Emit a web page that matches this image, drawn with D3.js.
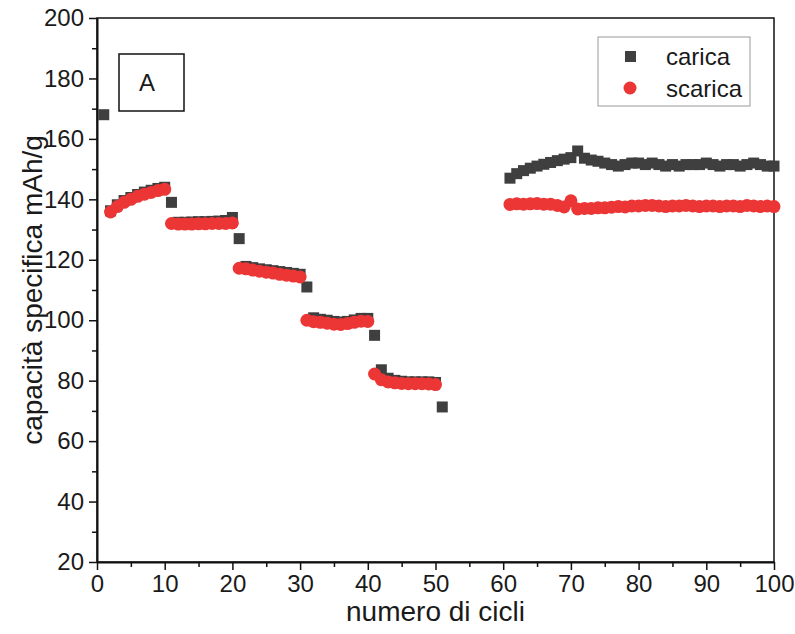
<!DOCTYPE html>
<html>
<head>
<meta charset="utf-8">
<script src="https://cdn.jsdelivr.net/npm/d3@7/dist/d3.min.js"></script>
<style>
  body { margin: 0; background: #fff; }
  text { font-family: "Liberation Sans", Arial, sans-serif; fill: #1a1a1a; }
</style>
</head>
<body>
<div id="chart"></div>
<script>
var width = 795;
var height = 634;
var margin = { top: 18, right: 21, bottom: 72, left: 97 };

// carica (charge) - cycle numbers and values
var caricaCycles = [1, 2, 3, 4, 5, 6, 7, 8, 9, 10,
  11, 12, 13, 14, 15, 16, 17, 18, 19, 20,
  21, 22, 23, 24, 25, 26, 27, 28, 29, 30,
  31, 32, 33, 34, 35, 36, 37, 38, 39, 40,
  41, 42, 43, 44, 45, 46, 47, 48, 49, 50,
  51,
  61, 62, 63, 64, 65, 66, 67, 68, 69, 70,
  71, 72, 73, 74, 75, 76, 77, 78, 79, 80,
  81, 82, 83, 84, 85, 86, 87, 88, 89, 90,
  91, 92, 93, 94, 95, 96, 97, 98, 99, 100];
var caricaValues = [168, 136.2, 138.2, 139.6, 140.6, 141.6, 142.4, 143, 143.6, 144,
  139, 132.4, 132.4, 132.5, 132.6, 132.6, 132.7, 132.8, 133, 134,
  127, 117.8, 117.4, 117, 116.7, 116.4, 116.1, 115.8, 115.5, 115.2,
  111, 100.8, 100.3, 100, 99.6, 99.4, 99.6, 100.1, 100.6, 100.6,
  95, 83.6, 80.8, 80.1, 79.8, 79.6, 79.6, 79.6, 79.6, 79.4,
  71.3,
  147, 148.5, 149.5, 150.3, 151, 151.6, 152.2, 152.8, 153.3, 153.8,
  156, 153.6, 153, 152.6, 152, 151.5, 151, 151.5, 152, 152,
  151.5, 152, 151.5, 151, 151.5, 151, 151.5, 151.5, 151.5, 152,
  151.5, 151, 151.5, 151.5, 151, 151.5, 152, 151.5, 151, 151];

// scarica (discharge) - cycle numbers and values
var scaricaCycles = [2, 3, 4, 5, 6, 7, 8, 9, 10,
  11, 12, 13, 14, 15, 16, 17, 18, 19, 20,
  21, 22, 23, 24, 25, 26, 27, 28, 29, 30,
  31, 32, 33, 34, 35, 36, 37, 38, 39, 40,
  41, 42, 43, 44, 45, 46, 47, 48, 49, 50,
  61, 62, 63, 64, 65, 66, 67, 68, 69, 70,
  71, 72, 73, 74, 75, 76, 77, 78, 79, 80,
  81, 82, 83, 84, 85, 86, 87, 88, 89, 90,
  91, 92, 93, 94, 95, 96, 97, 98, 99, 100];
var scaricaValues = [135.8, 137.6, 139, 140, 141, 141.7, 142.3, 142.9, 143.3,
  132, 131.8, 131.8, 131.8, 131.9, 131.9, 132, 132, 132, 132.2,
  117.2, 117, 116.6, 116.2, 115.9, 115.6, 115.2, 114.9, 114.6, 114.3,
  100, 99.5, 99.3, 99, 98.7, 98.6, 98.9, 99.3, 99.7, 99.6,
  82.2, 80.3, 79.6, 79.3, 79.1, 79, 79, 79, 78.9, 78.7,
  138.3, 138.5, 138.4, 138.5, 138.6, 138.4, 138.4, 138, 137.5, 139.5,
  136.8, 137, 137, 137.2, 137.2, 137.4, 137.6, 137.5, 137.8, 137.8,
  138, 138, 137.8, 137.6, 137.8, 137.8, 138, 137.8, 137.6, 137.8,
  137.8, 137.6, 137.8, 137.8, 137.6, 138, 137.8, 137.6, 137.8, 137.6];

var xTicks = [0, 10, 20, 30, 40, 50, 60, 70, 80, 90, 100];
var yTicks = [20, 40, 60, 80, 100, 120, 140, 160, 180, 200];
var legendLabels = ['carica', 'scarica'];

var caricaColor = '#3f3f3f';
var scaricaColor = '#ec3636';

var svg = d3.select('#chart')
  .append('svg')
  .attr('width', width)
  .attr('height', height);

var x = d3.scaleLinear().domain([0, 100]).range([margin.left, width - margin.right]);
var y = d3.scaleLinear().domain([20, 200]).range([height - margin.bottom, margin.top]);

// frame (top and right lines)
svg.append('rect')
  .attr('x', x(0))
  .attr('y', y(200))
  .attr('width', x(100) - x(0))
  .attr('height', y(20) - y(200))
  .attr('fill', 'none')
  .attr('stroke', '#111')
  .attr('stroke-width', 1.5);

// minor ticks
svg.append('g')
  .attr('transform', 'translate(0,' + y(20) + ')')
  .call(d3.axisBottom(x).tickValues(d3.range(5, 100, 10)).tickSize(5).tickFormat(''))
  .call(function(g) { g.select('.domain').remove(); });
svg.append('g')
  .attr('transform', 'translate(' + x(0) + ',0)')
  .call(d3.axisLeft(y).tickValues(d3.range(30, 200, 20)).tickSize(5).tickFormat(''))
  .call(function(g) { g.select('.domain').remove(); });

// major axes
svg.append('g')
  .attr('transform', 'translate(0,' + y(20) + ')')
  .call(d3.axisBottom(x).tickValues(xTicks).tickSize(8).tickSizeOuter(0).tickPadding(5));
svg.append('g')
  .attr('transform', 'translate(' + x(0) + ',0)')
  .call(d3.axisLeft(y).tickValues(yTicks).tickSize(8).tickSizeOuter(0).tickPadding(5));

svg.selectAll('.tick line').attr('stroke', '#111').attr('stroke-width', 1.5);
svg.selectAll('.domain').attr('stroke', '#111').attr('stroke-width', 2);
svg.selectAll('.tick text')
  .attr('font-size', 24)
  .attr('font-family', '"Liberation Sans", Arial, sans-serif')
  .attr('fill', '#1a1a1a');

// axis titles
svg.append('text')
  .attr('x', (x(0) + x(100)) / 2)
  .attr('y', 621)
  .attr('text-anchor', 'middle')
  .attr('font-size', 28)
  .text('numero di cicli');

svg.append('text')
  .attr('transform', 'translate(42,' + ((y(20) + y(200)) / 2) + ') rotate(-90)')
  .attr('text-anchor', 'middle')
  .attr('font-size', 28)
  .text('capacità specifica mAh/g');

// data
var carica = caricaCycles.map(function(c, i) { return { c: c, v: caricaValues[i] }; });
var scarica = scaricaCycles.map(function(c, i) { return { c: c, v: scaricaValues[i] }; });

var sq = 11;
svg.append('g').selectAll('rect')
  .data(carica)
  .enter().append('rect')
  .attr('x', function(d) { return x(d.c) - sq / 2; })
  .attr('y', function(d) { return y(d.v) - sq / 2; })
  .attr('width', sq)
  .attr('height', sq)
  .attr('fill', caricaColor);

svg.append('g').selectAll('circle')
  .data(scarica)
  .enter().append('circle')
  .attr('cx', function(d) { return x(d.c); })
  .attr('cy', function(d) { return y(d.v); })
  .attr('r', 6.5)
  .attr('fill', scaricaColor);

// "A" label box
svg.append('rect')
  .attr('x', 119).attr('y', 54)
  .attr('width', 65).attr('height', 57)
  .attr('fill', '#fff')
  .attr('stroke', '#111')
  .attr('stroke-width', 1.5);
svg.append('text')
  .attr('x', 147).attr('y', 91)
  .attr('text-anchor', 'middle')
  .attr('font-size', 24)
  .text('A');

// legend
var legend = svg.append('g');
legend.append('rect')
  .attr('x', 598).attr('y', 37)
  .attr('width', 152).attr('height', 69)
  .attr('fill', '#fff')
  .attr('stroke', '#999')
  .attr('stroke-width', 1);
legend.append('rect')
  .attr('x', 625).attr('y', 51)
  .attr('width', 11).attr('height', 11)
  .attr('fill', caricaColor);
legend.append('circle')
  .attr('cx', 630).attr('cy', 88)
  .attr('r', 6.5)
  .attr('fill', scaricaColor);
legend.selectAll('text.lbl')
  .data(legendLabels)
  .enter().append('text')
  .attr('class', 'lbl')
  .attr('x', 666)
  .attr('y', function(d, i) { return 65 + i * 32; })
  .attr('font-size', 24)
  .text(function(d) { return d; });
</script>
</body>
</html>
